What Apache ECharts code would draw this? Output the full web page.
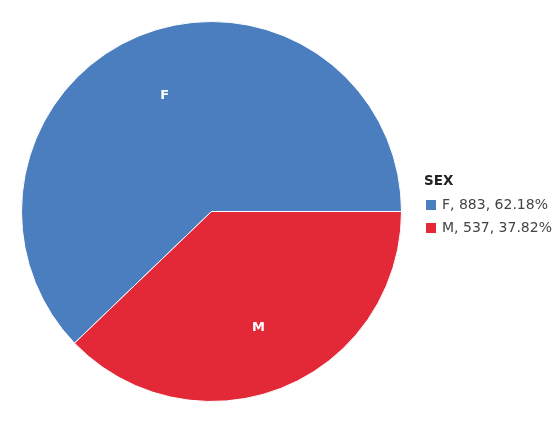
<!DOCTYPE html>
<html><head><meta charset="utf-8">
<script src="https://cdn.jsdelivr.net/npm/echarts@6/dist/echarts.min.js"></script>
<style>html,body{margin:0;padding:0;background:#fff}#c{width:559px;height:421px}</style>
</head><body><div id="c"></div>
<script>
const categories = ['F', 'M'];
const values = [883, 537];
const legendTitle = 'SEX';
const colors = ['#4a7ebf', '#e32837'];

const total = values.reduce((a, b) => a + b, 0);
const pct = v => (v / total * 100).toFixed(2);
const chart = echarts.init(document.getElementById('c'));
const cx = 211.5, cy = 211.5;
chart.setOption({
  animation: false,
  title: {
    text: legendTitle, left: 419, top: 169,
    textStyle: { fontFamily: 'DejaVu Sans', fontSize: 13.5, fontWeight: 'bold', color: '#222' }
  },
  legend: {
    orient: 'vertical', left: 419, top: 193, itemGap: 9,
    itemWidth: 12, itemHeight: 12, icon: 'rect',
    textStyle: { fontFamily: 'DejaVu Sans', fontSize: 14, color: '#444' },
    formatter: name => {
      const i = categories.indexOf(name);
      return name + ', ' + values[i] + ', ' + pct(values[i]) + '%';
    }
  },
  series: [{
    type: 'pie',
    center: [cx, cy],
    radius: 190,
    startAngle: 0,
    clockwise: false,
    color: colors,
    itemStyle: { borderColor: '#fff', borderWidth: 1 },
    label: {
      show: true, position: 'inside', formatter: '{b}',
      color: '#fff', fontFamily: 'DejaVu Sans', fontSize: 13, fontWeight: 'bold'
    },
    labelLine: { show: false },
    labelLayout: p => {
      const lx = p.labelRect.x + p.labelRect.width / 2;
      const ly = p.labelRect.y + p.labelRect.height / 2;
      return { x: cx + (lx - cx) * 1.28, y: cy + (ly - cy) * 1.28, align: 'center', verticalAlign: 'middle' };
    },
    emphasis: { disabled: true },
    data: categories.map((c, i) => ({ name: c, value: values[i] }))
  }]
});
</script></body></html>
